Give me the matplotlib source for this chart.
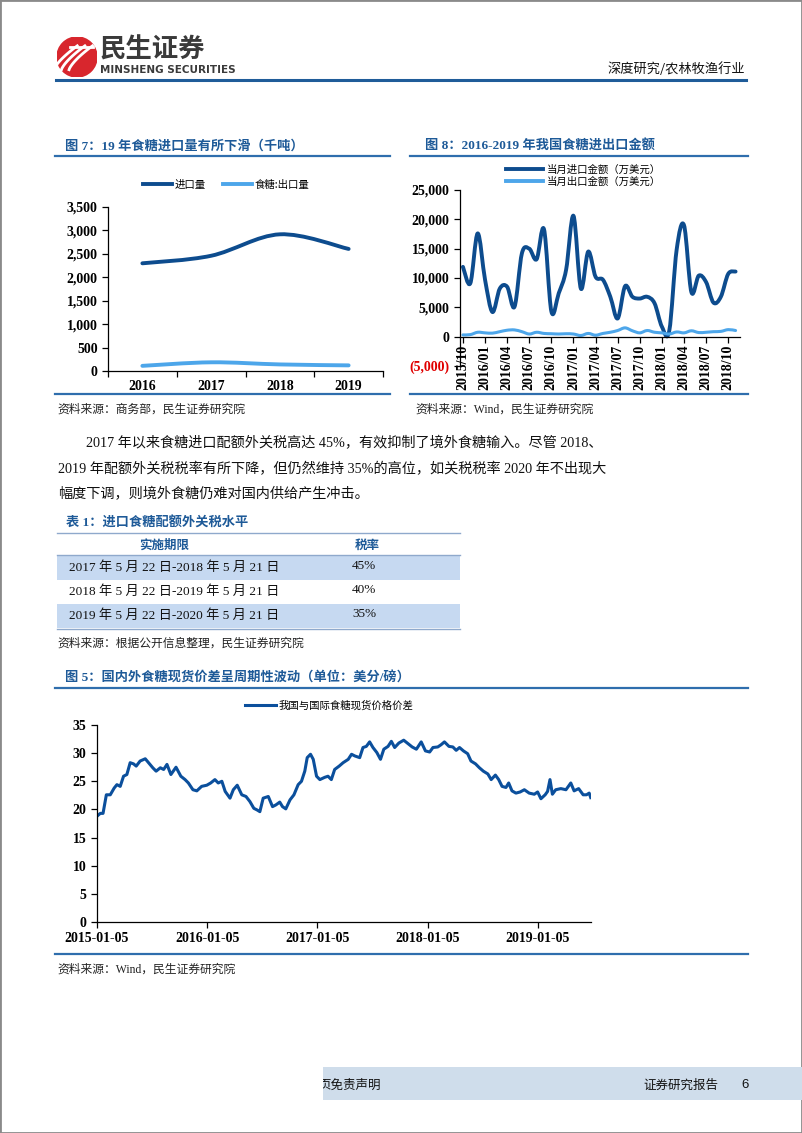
import numpy as np
import pandas as pd
import matplotlib
matplotlib.use('Agg')
import matplotlib.pyplot as plt
from matplotlib.path import Path
from matplotlib.patches import PathPatch, Rectangle, Circle
from matplotlib.lines import Line2D
from matplotlib.font_manager import FontProperties

# ---------------- data ----------------
# fig 7: yearly import / export volume (kt)
years = ['2016', '2017', '2018', '2019']
import_vol = [2295, 2455, 2910, 2600]
export_vol = [120, 195, 150, 130]

# fig 8: monthly import / export value (10k USD)
months = ['2015/10', '2015/11', '2015/12',
          '2016/01', '2016/02', '2016/03', '2016/04', '2016/05', '2016/06',
          '2016/07', '2016/08', '2016/09', '2016/10', '2016/11', '2016/12',
          '2017/01', '2017/02', '2017/03', '2017/04', '2017/05', '2017/06',
          '2017/07', '2017/08', '2017/09', '2017/10', '2017/11', '2017/12',
          '2018/01', '2018/02', '2018/03', '2018/04', '2018/05', '2018/06',
          '2018/07', '2018/08', '2018/09', '2018/10', '2018/11']
import_val = [11900, 9100, 17600, 9700, 4200, 8200, 8500, 5100, 14200,
              15000, 13200, 18300, 4300, 7400, 11400, 20600, 8200, 14500,
              10200, 9700, 6800, 3100, 8600, 6800, 6500, 6800, 5700,
              1700, 1000, 14800, 19000, 7600, 10400, 9300, 5800, 6800,
              10700, 11100]
export_val = [300, 350, 750, 650, 600, 850, 1100, 1150, 850,
              450, 750, 550, 500, 450, 500, 450, 200, 550,
              250, 550, 750, 1050, 1500, 1000, 650, 1050, 750,
              650, 450, 800, 650, 1000, 700, 750, 850, 900,
              1200, 1050]

# fig 5: domestic vs international spot sugar spread (US cents / lb)
spread_dates = ['2015-01-05', '2015-01-16', '2015-01-25', '2015-02-05', '2015-02-18',
                '2015-03-03', '2015-03-12', '2015-03-23', '2015-04-03', '2015-04-14',
                '2015-04-25', '2015-05-06', '2015-05-15', '2015-05-28', '2015-06-14',
                '2015-06-25', '2015-07-09', '2015-07-20', '2015-08-03', '2015-08-14',
                '2015-08-25', '2015-09-07', '2015-09-24', '2015-10-10', '2015-10-24',
                '2015-11-04', '2015-11-19', '2015-12-02', '2015-12-18', '2016-01-04',
                '2016-01-17', '2016-01-31', '2016-02-11', '2016-02-23', '2016-03-05',
                '2016-03-21', '2016-04-01', '2016-04-14', '2016-04-29', '2016-05-13',
                '2016-05-26', '2016-06-08', '2016-06-19', '2016-06-28', '2016-07-09',
                '2016-07-26', '2016-08-09', '2016-08-20', '2016-09-02', '2016-09-11',
                '2016-09-22', '2016-10-06', '2016-10-19', '2016-11-02', '2016-11-13',
                '2016-11-24', '2016-12-02', '2016-12-13', '2016-12-22', '2017-01-02',
                '2017-01-13', '2017-01-29', '2017-02-09', '2017-02-20', '2017-03-03',
                '2017-03-18', '2017-03-31', '2017-04-17', '2017-04-28', '2017-05-09',
                '2017-05-25', '2017-06-05', '2017-06-16', '2017-06-27', '2017-07-08',
                '2017-07-21', '2017-08-02', '2017-08-13', '2017-08-27', '2017-09-07',
                '2017-09-18', '2017-10-02', '2017-10-18', '2017-11-01', '2017-11-15',
                '2017-11-29', '2017-12-15', '2017-12-29', '2018-01-12', '2018-01-23',
                '2018-02-08', '2018-02-19', '2018-03-02', '2018-03-17', '2018-03-30',
                '2018-04-10', '2018-04-21', '2018-05-04', '2018-05-18', '2018-05-29',
                '2018-06-13', '2018-06-26', '2018-07-09', '2018-07-24', '2018-08-04',
                '2018-08-18', '2018-08-29', '2018-09-09', '2018-09-22', '2018-10-01',
                '2018-10-12', '2018-10-25', '2018-11-08', '2018-11-22', '2018-12-08',
                '2018-12-25', '2019-01-05', '2019-01-16', '2019-01-30', '2019-02-07',
                '2019-02-15', '2019-02-23', '2019-03-06', '2019-03-23', '2019-04-09',
                '2019-04-25', '2019-05-06', '2019-05-21', '2019-06-05', '2019-06-16',
                '2019-06-25', '2019-06-30']
spread = [18.8, 19.3, 19.3, 22.6, 22.6, 23.8, 24.4, 24.1, 25.9, 26.2,
          28.3, 28.1, 27.7, 28.6, 29.0, 28.3, 27.4, 26.8, 27.4, 27.1,
          28.0, 26.2, 27.5, 25.9, 25.3, 24.7, 23.5, 23.3, 24.1, 24.3,
          24.7, 25.3, 24.7, 25.0, 23.2, 22.0, 23.5, 24.3, 22.6, 22.3,
          21.4, 20.2, 19.9, 19.6, 22.0, 22.3, 20.5, 20.8, 21.3, 20.5,
          20.1, 21.7, 22.6, 24.4, 25.0, 26.8, 29.2, 29.8, 28.9, 25.9,
          25.3, 25.7, 25.9, 25.3, 27.1, 27.7, 28.3, 28.9, 29.8, 29.5,
          29.2, 31.0, 31.2, 32.0, 31.0, 30.1, 28.9, 30.7, 31.2, 32.1,
          31.0, 31.8, 32.3, 31.7, 31.1, 30.7, 32.0, 30.4, 30.2, 31.0,
          31.1, 31.5, 32.0, 31.2, 31.1, 30.5, 31.0, 30.4, 29.9, 28.6,
          28.1, 27.4, 26.8, 26.3, 25.3, 26.1, 25.3, 24.1, 23.9, 24.7,
          23.3, 22.9, 23.1, 23.5, 22.9, 22.7, 23.1, 21.9, 22.6, 23.2,
          25.3, 22.7, 23.5, 23.7, 23.5, 24.7, 23.3, 23.7, 22.6, 22.6,
          22.9, 22.1]

# table 1
tariff_period = ['2017 年 5 月 22 日-2018 年 5 月 21 日',
                 '2018 年 5 月 22 日-2019 年 5 月 21 日',
                 '2019 年 5 月 22 日-2020 年 5 月 21 日']
tariff_rate = ['45%', '40%', '35%']

# ---------------- style ----------------
W, H = 802, 1133
SERIF = ['Liberation Serif', 'Noto Sans CJK SC']
CJK = ['Noto Sans CJK SC', 'DejaVu Sans']
TITLE_BLUE = '#1E5A98'
RULE_BLUE = '#2F6EAD'
DARK = '#0D4C8E'
LIGHT = '#4DA6EA'

plt.rcParams['font.family'] = CJK
plt.rcParams['axes.linewidth'] = 0.9

fig = plt.figure(figsize=(W / 100, H / 100), dpi=100)


def fx(x):
    return x / W


def fy(y):
    return 1 - y / H


def add_ax(left, top, right, bottom):
    return fig.add_axes([fx(left), fy(bottom), (right - left) / W, (bottom - top) / H])


def hline(x0, x1, y, color=RULE_BLUE, lw=1.6):
    fig.add_artist(Line2D([fx(x0), fx(x1)], [fy(y), fy(y)], color=color, lw=lw))


def ftext(x, y, s, **kw):
    kw.setdefault('va', 'center')
    return fig.text(fx(x), fy(y), s, **kw)


def smooth_line(ax, x, y, color, lw):
    # excel style smoothed line (catmull-rom drawn as bezier)
    pts = np.column_stack([x, y]).astype(float)
    verts = [pts[0]]
    codes = [Path.MOVETO]
    n = len(pts)
    for i in range(n - 1):
        p0 = pts[i - 1] if i > 0 else pts[i]
        p1, p2 = pts[i], pts[i + 1]
        p3 = pts[i + 2] if i + 2 < n else pts[i + 1]
        verts += [p1 + (p2 - p0) / 6, p2 - (p3 - p1) / 6, p2]
        codes += [Path.CURVE4] * 3
    ax.add_patch(PathPatch(Path(verts, codes), fill=False, edgecolor=color,
                           lw=lw, capstyle='round', joinstyle='round'))


def style_axes(ax):
    ax.spines['top'].set_visible(False)
    ax.spines['right'].set_visible(False)
    ax.tick_params(axis='both', direction='out', length=4, width=0.9, colors='black')


tick_font = dict(family=SERIF, weight='bold', size=10)
leg_font = FontProperties(family=CJK, size=7.5)

# ---------------- page frame, header, footer ----------------
fig.add_artist(Rectangle((0, 0), 1, 1, transform=fig.transFigure, fill=False,
                         edgecolor='#8a8a8a', lw=2))

logo = fig.add_axes([fx(57), fy(77), 40 / W, 40 / H])
logo.set_xlim(-1, 1)
logo.set_ylim(-1, 1)
logo.set_aspect('equal')
logo.axis('off')
logo.add_patch(Circle((0, 0), 1, color='#D8262D'))
t = np.linspace(0, 1, 30)
for off in [-0.38, 0.0, 0.38]:
    logo.plot(-0.8 + off + 1.25 * t, -0.7 + 1.3 * t ** 0.7, color='white', lw=2.0,
              solid_capstyle='butt')
logo.plot([-0.35, 0.8], [0.52, 0.52], color='white', lw=2.0)

ftext(100, 50, '民生证券', family=CJK, weight='bold', size=19, color='#3a3a3a')
ftext(100, 70, 'MINSHENG SECURITIES', family=['Liberation Sans Narrow', 'DejaVu Sans'],
      weight='bold', size=7.5, color='#3a3a3a')
ftext(745, 69, '深度研究/农林牧渔行业', family=CJK, size=9.5, ha='right', color='#111111')
hline(56, 746, 80, color='#1F5C99', lw=2.2)

band = Rectangle((fx(323), fy(1100)), 1 - fx(323), (1100 - 1067) / H,
                 transform=fig.transFigure, facecolor='#CFDDEB', edgecolor='none')
fig.add_artist(band)
foot = ftext(318, 1085, '页免责声明', family=CJK, size=9, color='#111111')
foot.set_clip_path(band)
ftext(643, 1085, '证券研究报告', family=CJK, size=9, color='#111111')
ftext(741, 1085, '6', family=['Liberation Sans', 'DejaVu Sans'], size=9.5, color='#111111')

# ---------------- fig 7 ----------------
ftext(65, 146, '图 7：19 年食糖进口量有所下滑（千吨）', family=SERIF, weight='bold',
      size=9.5, color=TITLE_BLUE)
hline(55, 390, 156)
hline(55, 390, 394)
ftext(57, 410, '资料来源：商务部，民生证券研究院', family=SERIF, size=8.5, color='#222222')

ax7 = add_ax(108, 206.5, 383, 371.5)
style_axes(ax7)
xc = np.arange(len(years)) + 0.5
smooth_line(ax7, xc, import_vol, DARK, 2.8)
smooth_line(ax7, xc, export_vol, LIGHT, 2.8)
ax7.set_xlim(0, len(years))
ax7.set_ylim(0, 3500)
ax7.set_yticks(np.arange(0, 3501, 500))
ax7.set_yticklabels([f'{v:,}' for v in range(0, 3501, 500)], **tick_font)
ax7.set_xticks(np.arange(0, len(years) + 1))
ax7.set_xticklabels([])
ax7.set_xticks(xc, minor=True)
ax7.set_xticklabels(years, minor=True, **tick_font)
ax7.tick_params(axis='x', which='minor', length=0, pad=6)
ax7.legend([Line2D([], [], color=DARK, lw=2.8), Line2D([], [], color=LIGHT, lw=2.8)],
           ['进口量', '食糖:出口量'], loc='center', bbox_to_anchor=(0.43, 1.13), ncol=2,
           frameon=False, prop=leg_font, handlelength=2.8, handletextpad=0.3,
           columnspacing=1.6)

# ---------------- fig 8 ----------------
ftext(425, 146, '图 8：2016-2019 年我国食糖进出口金额', family=SERIF, weight='bold',
      size=9.5, color=TITLE_BLUE)
hline(410, 748, 156)
hline(410, 748, 394)
ftext(415, 410, '资料来源：Wind，民生证券研究院', family=SERIF, size=8.5, color='#222222')

ax8 = add_ax(460, 190, 740, 366)
ax8.spines['bottom'].set_position(('data', 0))
style_axes(ax8)
xm = np.arange(len(months))
smooth_line(ax8, xm, import_val, DARK, 2.8)
smooth_line(ax8, xm, export_val, LIGHT, 2.2)
ax8.set_xlim(-0.4, len(months) - 0.4)
ax8.set_ylim(-5000, 25000)
yt = np.arange(-5000, 25001, 5000)
ax8.set_yticks(yt)
ax8.set_yticklabels([f'({-v:,})' if v < 0 else f'{v:,}' for v in yt], **tick_font)
ax8.set_xticks(xm[::3])
ax8.set_xticklabels(months[::3], rotation=90, family=SERIF, weight='bold', size=10)
ax8.tick_params(axis='x', pad=2)
for lbl in ax8.get_yticklabels():
    if lbl.get_text().startswith('('):
        lbl.set_color('#E00000')
ax8.legend([Line2D([], [], color=DARK, lw=2.8), Line2D([], [], color=LIGHT, lw=2.8)],
           ['当月进口金额（万美元）', '当月出口金额（万美元）'], loc='lower center',
           bbox_to_anchor=(0.44, 0.99), ncol=1, frameon=False, prop=leg_font,
           handlelength=3.6, handletextpad=0.3, labelspacing=0.15, borderpad=0)

# ---------------- paragraph ----------------
body = dict(family=SERIF, size=10.2, color='#111111')
ftext(86, 443, '2017 年以来食糖进口配额外关税高达 45%，有效抑制了境外食糖输入。尽管 2018、', **body)
ftext(58, 469, '2019 年配额外关税税率有所下降，但仍然维持 35%的高位，如关税税率 2020 年不出现大', **body)
ftext(58, 494, '幅度下调，则境外食糖仍难对国内供给产生冲击。', **body)

# ---------------- table 1 ----------------
ftext(66, 523, '表 1：进口食糖配额外关税水平', family=SERIF, weight='bold', size=9.5,
      color=TITLE_BLUE)
hline(57, 460, 533, color='#8FA9CC', lw=1.0)
ftext(164, 545, '实施期限', family=CJK, weight='bold', size=9, color=TITLE_BLUE, ha='center')
ftext(367, 545, '税率', family=CJK, weight='bold', size=9, color=TITLE_BLUE, ha='center')
row_top = [556, 580, 604]
for i, (period, rate) in enumerate(zip(tariff_period, tariff_rate)):
    top = row_top[i]
    if i % 2 == 0:
        fig.add_artist(Rectangle((fx(57), fy(top + 24)), (460 - 57) / W, 24 / H,
                                 transform=fig.transFigure, facecolor='#C6D9F1',
                                 edgecolor='none'))
    ftext(69, top + 12, period, family=SERIF, size=9.5, color='#111111')
    ftext(352, top + 10, rate, family=SERIF, size=9.5, color='#111111')
hline(57, 460, 555, color='#8FA9CC', lw=1.0)
hline(57, 460, 629, color='#8FA9CC', lw=1.0)
ftext(57, 644, '资料来源：根据公开信息整理，民生证券研究院', family=SERIF, size=8.5, color='#222222')

# ---------------- fig 5 ----------------
ftext(65, 678, '图 5：国内外食糖现货价差呈周期性波动（单位：美分/磅）', family=SERIF,
      weight='bold', size=9.5, color=TITLE_BLUE)
hline(55, 748, 688)
hline(55, 748, 954)
ftext(57, 970, '资料来源：Wind，民生证券研究院', family=SERIF, size=8.5, color='#222222')

ax5 = add_ax(97, 725, 591, 922)
style_axes(ax5)
sd = pd.to_datetime(spread_dates)
ax5.plot(sd, spread, color='#0B4F9C', lw=2.2, label='我国与国际食糖现货价格价差')
ax5.set_xlim(pd.Timestamp('2015-01-05'), pd.Timestamp('2019-07-01'))
ax5.set_ylim(0, 35)
ax5.set_yticks(np.arange(0, 36, 5))
ax5.set_yticklabels([str(v) for v in range(0, 36, 5)], **tick_font)
xt = pd.to_datetime(['2015-01-05', '2016-01-05', '2017-01-05', '2018-01-05', '2019-01-05'])
ax5.set_xticks(xt)
ax5.set_xticklabels([d.strftime('%Y-%m-%d') for d in xt], **tick_font)
ax5.legend(loc='center', bbox_to_anchor=(0.47, 1.10), frameon=False, prop=leg_font,
           handlelength=3.0, handletextpad=0.3)

fig.savefig('out.png', dpi=100)
